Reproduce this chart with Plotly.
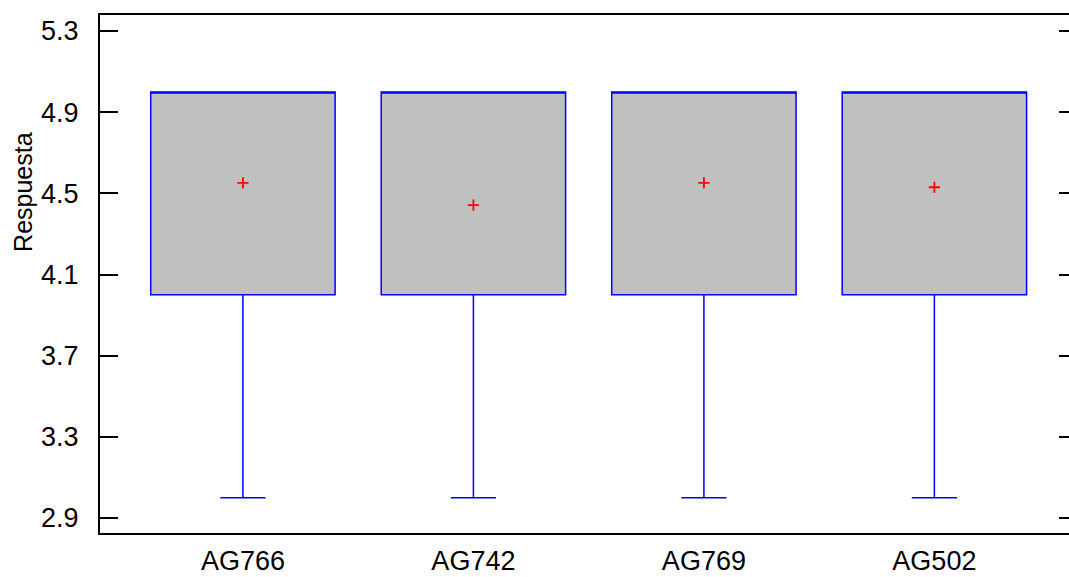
import plotly.graph_objects as go

categories = ["AG766", "AG742", "AG769", "AG502"]
lower_whisker = [3.0, 3.0, 3.0, 3.0]
q1_values = [4.0, 4.0, 4.0, 4.0]
median_values = [5.0, 5.0, 5.0, 5.0]
q3_values = [5.0, 5.0, 5.0, 5.0]
upper_whisker = [5.0, 5.0, 5.0, 5.0]
mean_values = [4.552, 4.442, 4.552, 4.530]
y_ticks = [2.9, 3.3, 3.7, 4.1, 4.5, 4.9, 5.3]
y_title = "Respuesta"

fig = go.Figure()
fig.add_trace(go.Box(
    x=categories,
    q1=q1_values,
    median=median_values,
    q3=q3_values,
    lowerfence=lower_whisker,
    upperfence=upper_whisker,
    fillcolor="#C0C0C0",
    line=dict(color="#0000FF", width=1.5),
    width=0.8,
    whiskerwidth=0.245,
    boxpoints=False,
    showlegend=False,
))
fig.add_trace(go.Scatter(
    x=categories,
    y=mean_values,
    mode="markers",
    marker=dict(symbol="cross-thin", size=8, line=dict(color="#FF0000", width=1.8)),
    showlegend=False,
))
# invisible trace for right-side ticks
fig.add_trace(go.Scatter(x=categories, y=mean_values, yaxis="y2", mode="markers",
                         marker=dict(opacity=0), showlegend=False, hoverinfo="skip"))

font = "Liberation Sans, Arial, sans-serif"
fig.update_layout(
    width=1069, height=577,
    margin=dict(l=100, r=0, t=15, b=44, autoexpand=False),
    plot_bgcolor="white", paper_bgcolor="white",
    font=dict(family=font, color="black"),
    xaxis=dict(
        type="category",
        range=[-0.62, 3.584],
        showline=True, linecolor="black", linewidth=2, mirror=True,
        ticks="", showgrid=False, zeroline=False,
        tickfont=dict(size=27),
        ticklabelstandoff=3,
        automargin=False,
    ),
    yaxis=dict(
        range=[2.826, 5.379],
        tickvals=y_ticks,
        ticktext=[f"{v:.1f}" for v in y_ticks],
        showline=True, linecolor="black", linewidth=2,
        ticks="inside", ticklen=18, tickwidth=2, tickcolor="black",
        showgrid=False, zeroline=False,
        tickfont=dict(size=27),
        ticklabelstandoff=14,
        automargin=False,
    ),
    yaxis2=dict(
        overlaying="y", side="right", anchor="x",
        range=[2.826, 5.379],
        tickvals=y_ticks,
        showticklabels=False,
        showline=False,
        ticks="inside", ticklen=10, tickwidth=2, tickcolor="black",
        showgrid=False, zeroline=False,
        automargin=False,
    ),
    annotations=[dict(
        text=y_title, textangle=-90,
        xref="paper", yref="paper",
        x=-0.0797, y=0.658,
        xanchor="center", yanchor="middle",
        showarrow=False, font=dict(size=25),
    )],
)

fig.write_html("out.html")
